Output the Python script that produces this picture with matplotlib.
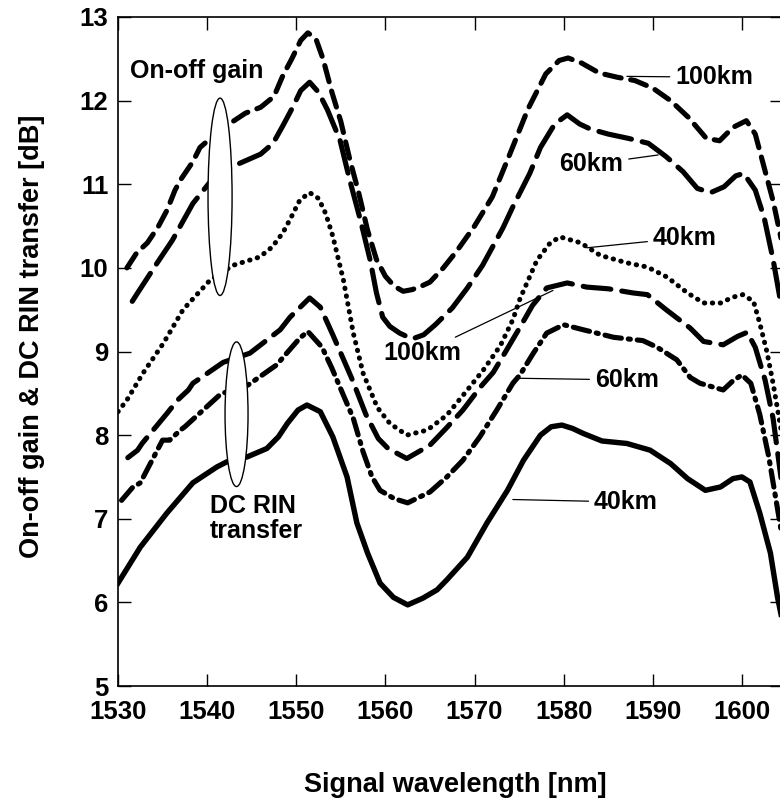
import matplotlib
matplotlib.use("Agg")
import matplotlib.pyplot as plt
from matplotlib.patches import Ellipse

plt.rcParams['font.family'] = ['Liberation Sans', 'DejaVu Sans']
plt.rcParams['font.weight'] = 'bold'
plt.rcParams['lines.scale_dashes'] = False

# On-off gain, 100 km (short dashes)
gain100_x = [1531, 1532.1, 1533.3, 1534.5, 1535.5, 1536.4, 1537, 1538.4, 1539.2, 1540.5,
             1542.6, 1544.3, 1546, 1547.5, 1548.5, 1549.5, 1550.5, 1551.3, 1552.2, 1553,
             1554, 1555, 1556, 1557, 1558, 1559, 1560, 1561, 1562, 1563, 1564, 1565,
             1566.5, 1568, 1570, 1572, 1574, 1576, 1578, 1579.5, 1580.5, 1582, 1584,
             1586, 1588, 1590, 1592, 1594, 1596, 1597.5, 1599, 1600.5, 1601.5, 1602.5,
             1603.5, 1604.5]
gain100_y = [10.0, 10.18, 10.3, 10.49, 10.69, 10.93, 11.05, 11.27, 11.44, 11.56,
             11.73, 11.85, 11.92, 12.05, 12.3, 12.5, 12.72, 12.81, 12.74, 12.5,
             12.1, 11.75, 11.3, 10.9, 10.45, 10.1, 9.9, 9.78, 9.72, 9.74, 9.78, 9.83,
             10.0, 10.2, 10.5, 10.85, 11.37, 11.9, 12.32, 12.48, 12.51, 12.45, 12.33,
             12.28, 12.24, 12.15, 12.0, 11.8, 11.55, 11.52, 11.68, 11.76, 11.6, 11.2,
             10.8, 10.3]

# On-off gain, 60 km (long dashes)
gain60_x = [1531.6, 1532.2, 1534.4, 1536.1, 1538.4, 1540.5, 1542.8, 1544.5, 1546, 1547.4,
            1548.5, 1549.6, 1550.5, 1551.5, 1552.5, 1553.5, 1554.9, 1556, 1557.2, 1558.3,
            1559, 1559.7, 1560.5, 1561.6, 1563, 1564.3, 1565.6, 1567.5, 1569.2, 1570.9,
            1573.2, 1574.3, 1576.2, 1577.4, 1579, 1580.4, 1581.8, 1583, 1585, 1587.2,
            1589.5, 1591.5, 1593.4, 1595, 1596.5, 1598, 1599.3, 1600.2, 1601.5, 1602.5,
            1603.5, 1604.5]
gain60_y = [9.6, 9.7, 10.06, 10.33, 10.77, 11.05, 11.21, 11.29, 11.36, 11.49,
            11.7, 11.92, 12.12, 12.22, 12.1, 11.89, 11.53, 11.05, 10.57, 10.09,
            9.7, 9.41, 9.3, 9.22, 9.15, 9.2, 9.32, 9.52, 9.76, 10.03,
            10.48, 10.73, 11.13, 11.44, 11.72, 11.83, 11.72, 11.66, 11.6, 11.55,
            11.49, 11.33, 11.15, 10.95, 10.9, 10.97, 11.1, 11.13, 10.93, 10.6,
            10.1, 9.5]

# On-off gain, 40 km (dotted)
gain40_x = [1530, 1531, 1532.8, 1535.1, 1537.3, 1540.3, 1542.9, 1545.9, 1547.3, 1548.5,
            1549.5, 1550.4, 1551.5, 1552.5, 1553.3, 1554.1, 1555.3, 1556.4, 1557.5, 1559.1,
            1560.5, 1562.4, 1564.7, 1566.9, 1569.2, 1571, 1572.9, 1574.3, 1575.1, 1577,
            1578.5, 1579.6, 1581.9, 1584.1, 1587.1, 1589.4, 1591.6, 1593.9, 1595.7, 1597.6,
            1599, 1600.1, 1601.3, 1602, 1602.8, 1603.5, 1604.5]
gain40_y = [8.28, 8.42, 8.74, 9.1, 9.5, 9.85, 10.03, 10.13, 10.25, 10.42,
            10.62, 10.81, 10.9, 10.83, 10.65, 10.38, 9.85, 9.22, 8.74, 8.33,
            8.14, 8.0, 8.06, 8.24, 8.54, 8.78, 9.07, 9.38, 9.63, 10.09,
            10.3, 10.37, 10.3, 10.15, 10.06, 10.01, 9.89, 9.7, 9.58, 9.58,
            9.65, 9.68, 9.6, 9.34, 9.0, 8.62, 8.0]

# DC RIN transfer, 100 km (dashes)
rin100_x = [1531.1, 1532.2, 1532.7, 1535.5, 1536.7, 1537.9, 1538.4, 1541.8, 1544.8, 1548.2,
            1549.3, 1551.5, 1552.7, 1554.1, 1555.2, 1556.3, 1557.8, 1559.2, 1560.3, 1562.4,
            1565, 1566.8, 1568.7, 1570.7, 1572.1, 1573.5, 1575.1, 1576.5, 1578.1, 1580.4,
            1582.6, 1585, 1587.8, 1589.4, 1591.5, 1594.2, 1595.7, 1597.9, 1599.5, 1600.6,
            1601.5, 1602.6, 1603.5, 1604.5]
rin100_y = [7.73, 7.82, 7.9, 8.26, 8.42, 8.54, 8.62, 8.87, 8.98, 9.26,
            9.41, 9.64, 9.53, 9.2, 8.93, 8.66, 8.25, 7.96, 7.84, 7.72,
            7.88, 8.08, 8.3, 8.58, 8.75, 9.0, 9.29, 9.55, 9.76, 9.82,
            9.77, 9.75, 9.7, 9.68, 9.5, 9.28, 9.12, 9.08, 9.18, 9.23,
            9.05, 8.66, 8.2, 7.4]

# DC RIN transfer, 60 km (dash-dot)
rin60_x = [1530.4, 1531.6, 1532.5, 1535, 1535.8, 1537, 1537.5, 1541.4, 1542, 1544.6,
           1547.8, 1549.5, 1550.4, 1551.3, 1552.9, 1554, 1555.2, 1556.4, 1557.5, 1558.5,
           1559.4, 1561, 1562.5, 1565, 1566.9, 1568.7, 1570.6, 1572.5, 1574.3, 1575.1,
           1576.6, 1578.1, 1580, 1582.2, 1585.6, 1588.9, 1590.5, 1592.7, 1594.2, 1595.3,
           1597.9, 1599, 1600, 1601, 1602, 1603, 1604.5]
rin60_y = [7.22, 7.37, 7.43, 7.94, 7.94, 8.06, 8.1, 8.48, 8.51, 8.6,
           8.84, 9.05, 9.16, 9.24, 9.05, 8.8, 8.5, 8.2, 7.8, 7.5,
           7.34, 7.24, 7.19, 7.32, 7.5, 7.7, 7.98, 8.3, 8.62, 8.72,
           8.98, 9.22, 9.32, 9.26, 9.17, 9.13, 9.05, 8.9, 8.69, 8.62,
           8.54, 8.65, 8.72, 8.62, 8.25, 7.75, 6.8]

# DC RIN transfer, 40 km (solid)
rin40_x = [1530, 1532.5, 1535.5, 1538.4, 1541.1, 1542.2, 1544.5, 1546.7, 1548, 1549,
           1550.2, 1551.2, 1552.7, 1554.1, 1555.7, 1556.8, 1558, 1559.4, 1560.9, 1562.5,
           1564.2, 1565.8, 1566.9, 1569.2, 1571.4, 1573.7, 1575.5, 1577.4, 1578.6, 1579.8,
           1581, 1582.2, 1584.3, 1587.1, 1589.7, 1592, 1593.9, 1595.9, 1597.6, 1599,
           1600, 1600.9, 1602, 1603.2, 1604, 1604.5]
rin40_y = [6.23, 6.66, 7.07, 7.43, 7.62, 7.68, 7.74, 7.84, 7.98, 8.14,
           8.3, 8.36, 8.28, 7.98, 7.5, 6.95, 6.59, 6.23, 6.06, 5.97,
           6.05, 6.15, 6.27, 6.54, 6.95, 7.34, 7.7, 8.0, 8.1, 8.12,
           8.08, 8.02, 7.93, 7.9, 7.82, 7.66, 7.48, 7.34, 7.38, 7.48,
           7.5, 7.44, 7.07, 6.59, 6.06, 5.8]

x_ticks = [1530, 1540, 1550, 1560, 1570, 1580, 1590, 1600]
y_ticks = [5, 6, 7, 8, 9, 10, 11, 12, 13]

fig = plt.figure(figsize=(7.8, 8), dpi=100)
ax = fig.add_axes([118 / 780, 1 - 686 / 800, (782 - 118) / 780, (686 - 17) / 800])

lw = 3.7
ax.plot(gain100_x, gain100_y, color='black', lw=lw, dashes=(12, 7), dash_capstyle='round')
ax.plot(gain60_x, gain60_y, color='black', lw=lw, dashes=(24, 8), dash_capstyle='round')
ax.plot(gain40_x, gain40_y, color='black', lw=3.6, dashes=(0.3, 5.4), dash_capstyle='round')
ax.plot(rin100_x, rin100_y, color='black', lw=lw, dashes=(20, 8), dash_capstyle='round')
ax.plot(rin60_x, rin60_y, color='black', lw=lw, dashes=(12, 5, 1.5, 5), dash_capstyle='round')
ax.plot(rin40_x, rin40_y, color='black', lw=3.9, solid_joinstyle='round')

# grouping ellipses
ax.add_patch(Ellipse((1541.45, 10.85), 2.7, 2.36, facecolor='white', edgecolor='black', lw=1.0, zorder=5))
ax.add_patch(Ellipse((1543.3, 8.25), 2.58, 1.73, facecolor='white', edgecolor='black', lw=1.0, zorder=5))

tfs = 18
ax.text(1538.8, 12.35, 'On-off gain', fontsize=tfs, fontweight='bold', ha='center', va='center')
ax.text(1540.3, 7.0, 'DC RIN\ntransfer', fontsize=tfs, fontweight='bold', ha='left', va='center',
        linespacing=1.05)

leader = dict(arrowstyle='-', lw=0.9, color='black', shrinkA=2, shrinkB=0)
ax.annotate('100km', xy=(1587.1, 12.29), xytext=(1596.9, 12.28), fontsize=tfs, fontweight='bold',
            ha='center', va='center', arrowprops=leader)
ax.annotate('60km', xy=(1590.6, 11.35), xytext=(1583.1, 11.24), fontsize=tfs, fontweight='bold',
            ha='center', va='center', arrowprops=leader)
ax.annotate('40km', xy=(1582.6, 10.24), xytext=(1593.6, 10.36), fontsize=tfs, fontweight='bold',
            ha='center', va='center', arrowprops=leader)
ax.annotate('100km', xy=(1578.8, 9.73), xytext=(1564.1, 8.98), fontsize=tfs, fontweight='bold',
            ha='center', va='center', arrowprops=leader)
ax.annotate('60km', xy=(1574.9, 8.68), xytext=(1587.1, 8.66), fontsize=tfs, fontweight='bold',
            ha='center', va='center', arrowprops=leader)
ax.annotate('40km', xy=(1574.3, 7.23), xytext=(1587.0, 7.2), fontsize=tfs, fontweight='bold',
            ha='center', va='center', arrowprops=leader)

ax.set_xlim(1530, 1604.5)
ax.set_ylim(5, 13)
ax.set_xticks(x_ticks)
ax.set_yticks(y_ticks)
ax.tick_params(direction='in', top=True, right=True, length=9, width=1.0, labelsize=18.5)
ax.tick_params(axis='y', pad=7)
ax.tick_params(axis='x', pad=10)
for lab in ax.get_xticklabels() + ax.get_yticklabels():
    lab.set_fontweight('bold')
for s in ax.spines.values():
    s.set_linewidth(1.2)

fig.text(32 / 780, 1 - 336 / 800, 'On-off gain & DC RIN transfer [dB]', rotation=90,
         fontsize=19.5, fontweight='bold', ha='center', va='center')
fig.text(455 / 780, 1 - 785 / 800, 'Signal wavelength [nm]', fontsize=19.5, fontweight='bold',
         ha='center', va='center')

fig.savefig('out.png', dpi=100)
